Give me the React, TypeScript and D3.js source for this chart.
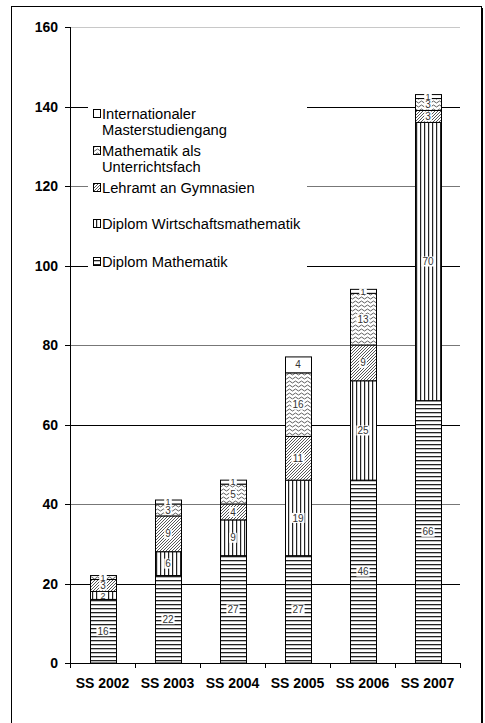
import React from "react";
import * as d3 from "d3";

const categories = ["SS 2002", "SS 2003", "SS 2004", "SS 2005", "SS 2006", "SS 2007"];
const diplomMathematik = [16, 22, 27, 27, 46, 66];
const diplomWirtschaft = [2, 6, 9, 19, 25, 70];
const lehramt = [3, 9, 4, 11, 9, 3];
const unterricht = [1, 3, 5, 16, 13, 3];
const master = [0, 1, 1, 4, 1, 1];
const yTicks = [0, 20, 40, 60, 80, 100, 120, 140, 160];

const seriesNames = [
  "Diplom Mathematik",
  "Diplom Wirtschaftsmathematik",
  "Lehramt an Gymnasien",
  "Mathematik als Unterrichtsfach",
  "Internationaler Masterstudiengang",
];
const seriesValues = [diplomMathematik, diplomWirtschaft, lehramt, unterricht, master];
const patternIds = ["pHoriz", "pVert", "pDiag", "pWave", "pWhite"];

const legendItems = [
  { s: 4, lines: ["Internationaler", "Masterstudiengang"] },
  { s: 3, lines: ["Mathematik als", "Unterrichtsfach"] },
  { s: 2, lines: ["Lehramt an Gymnasien"] },
  { s: 1, lines: ["Diplom Wirtschaftsmathematik"] },
  { s: 0, lines: ["Diplom Mathematik"] },
];
const legendCenters = [114, 151, 188, 224, 262];

const W = 485;
const H = 723;
const x0 = 70, x1 = 460, yBottom = 663, yTop = 27;

export default function App() {
  const x = d3.scaleBand<string>().domain(categories).range([x0, x1]).paddingInner(0.6).paddingOuter(0.3);
  const y = d3.scaleLinear().domain([0, 160]).range([yBottom, yTop]);

  const rows = categories.map((c, i) => {
    const r: any = { cat: c };
    seriesNames.forEach((n, s) => (r[n] = seriesValues[s][i]));
    return r;
  });
  const stack = d3.stack<any>().keys(seriesNames)(rows);

  const gridColor = (v: number) => (v === 160 ? "#c8c8c8" : v % 40 === 0 ? "#777" : "#000");
  const font = "Liberation Sans, Arial, sans-serif";
  const step = x.step();

  return (
    <svg width={W} height={H} style={{ position: "absolute", left: 0, top: 0, background: "#fff" }}>
      <defs>
        <pattern id="pHoriz" patternUnits="userSpaceOnUse" width={4} height={4}>
          <rect width={4} height={4} fill="#fff" />
          <rect y={0} width={4} height={1.3} fill="#222" />
        </pattern>
        <pattern id="pVert" patternUnits="userSpaceOnUse" width={4} height={4}>
          <rect width={4} height={4} fill="#fff" />
          <rect x={0} width={1.2} height={4} fill="#222" />
        </pattern>
        <pattern id="pDiag" patternUnits="userSpaceOnUse" width={3} height={3}>
          <rect width={3} height={3} fill="#fff" />
          <path d="M-1,1 L1,-1 M0,3 L3,0 M2,4 L4,2" stroke="#444" strokeWidth={0.9} />
        </pattern>
        <pattern id="pWave" patternUnits="userSpaceOnUse" width={6} height={4}>
          <rect width={6} height={4} fill="#fff" />
          <path d="M0,2 Q1.5,0 3,2 T6,2" stroke="#333" strokeWidth={0.8} fill="none" />
        </pattern>
        <pattern id="pWhite" patternUnits="userSpaceOnUse" width={4} height={4}>
          <rect width={4} height={4} fill="#fff" />
        </pattern>
      </defs>

      {/* outer frame */}
      <rect x={11.5} y={6.5} width={470} height={730} fill="none" stroke="#000" strokeWidth={1} />
      <line x1={482.5} x2={482.5} y1={8} y2={723} stroke="#000" strokeWidth={1} />

      {/* gridlines */}
      {yTicks.filter((v) => v > 0).map((v) => (
        <line key={v} x1={x0} x2={x1} y1={Math.round(y(v)) + 0.5} y2={Math.round(y(v)) + 0.5} stroke={gridColor(v)} strokeWidth={1} />
      ))}

      {/* legend */}
      <rect x={88} y={96} width={219} height={178} fill="#fff" />
      {legendItems.map((it, k) => {
        const cy = legendCenters[k];
        return (
          <g key={k}>
            <rect x={93.5} y={cy - 4.5} width={7} height={8} fill={`url(#${patternIds[it.s]})`} stroke="#000" strokeWidth={1} />
            {it.lines.map((ln, j) => (
              <text key={j} x={102} y={cy + 5 + j * 16} fontFamily={font} fontSize={14.7} fill="#000">
                {ln}
              </text>
            ))}
          </g>
        );
      })}

      {/* bars */}
      {stack.map((layer, s) => (
        <g key={s}>
          {layer.map((d, i) => {
            const v = d[1] - d[0];
            if (v <= 0) return null;
            const bx = x(categories[i])!;
            const yt = y(d[1]);
            const yb = y(d[0]);
            return (
              <rect key={i} x={Math.round(bx) + 0.5} y={yt} width={x.bandwidth()} height={yb - yt}
                fill={`url(#${patternIds[s]})`} stroke="#000" strokeWidth={1} />
            );
          })}
        </g>
      ))}

      {/* segment labels */}
      {stack.map((layer, s) => (
        <g key={"l" + s}>
          {layer.map((d, i) => {
            const v = d[1] - d[0];
            if (v <= 0) return null;
            const cx = x(categories[i])! + x.bandwidth() / 2 + 0.5;
            const cy = (y(d[0]) + y(d[1])) / 2;
            const segH = y(d[0]) - y(d[1]);
            const txt = String(v);
            const tw = txt.length * 5.6 + 2;
            const fs = segH < 10 ? 9 : 10;
            const bh = Math.min(10, Math.max(6, segH - 1));
            return (
              <g key={i}>
                <rect x={cx - tw / 2} y={cy - bh / 2} width={tw} height={bh} fill="#fff" />
                <text x={cx} y={cy + fs * 0.36} textAnchor="middle" fontFamily={font} fontSize={fs} fill="#333">
                  {txt}
                </text>
              </g>
            );
          })}
        </g>
      ))}

      {/* y axis */}
      <line x1={x0 + 0.5} x2={x0 + 0.5} y1={yTop} y2={yBottom} stroke="#000" />
      {yTicks.map((v) => (
        <g key={v}>
          <line x1={x0 - 5} x2={x0} y1={Math.round(y(v)) + 0.5} y2={Math.round(y(v)) + 0.5} stroke="#000" />
          <text x={58} y={y(v) + 5} textAnchor="end" fontFamily={font} fontWeight="bold" fontSize={14}>
            {v}
          </text>
        </g>
      ))}

      {/* x axis */}
      <line x1={x0} x2={x1 + 0.5} y1={yBottom + 0.5} y2={yBottom + 0.5} stroke="#000" />
      {d3.range(categories.length + 1).map((k) => (
        <line key={k} x1={Math.round(x0 + k * step) + 0.5} x2={Math.round(x0 + k * step) + 0.5} y1={yBottom} y2={yBottom + 5} stroke="#000" />
      ))}
      {categories.map((c) => (
        <text key={c} x={x(c)! + x.bandwidth() / 2} y={688} textAnchor="middle" fontFamily={font} fontWeight="bold" fontSize={14}>
          {c}
        </text>
      ))}
    </svg>
  );
}
